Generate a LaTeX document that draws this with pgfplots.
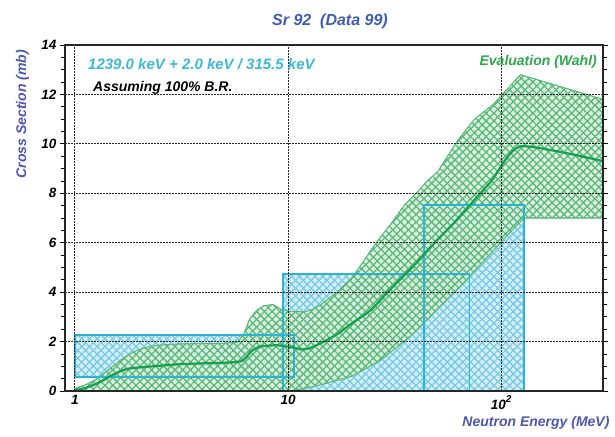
\documentclass[border=0pt]{standalone}
\usepackage{fontspec}
\setmainfont{Liberation Sans}
\usepackage{pgfplots}
\pgfplotsset{compat=1.18}
\usetikzlibrary{patterns.meta}

\definecolor{bandfill}{HTML}{D8EFDB}
\definecolor{bandhatch}{HTML}{5AB87A}
\definecolor{bandline}{HTML}{14A04C}
\definecolor{boxfill}{HTML}{D6EEF8}
\definecolor{boxhatch}{HTML}{78CBE6}
\definecolor{boxedge}{HTML}{2BB3D3}
\definecolor{titleblue}{HTML}{3C5CB8}
\definecolor{labelblue}{HTML}{4D56B0}
\definecolor{evalgreen}{HTML}{2AA84A}
\definecolor{infocyan}{HTML}{3CB8D8}

\tikzset{
  xhatch/.style={
    postaction={pattern={Lines[angle=45,distance=5.5pt,line width=1.3pt]},pattern color=#1},
    postaction={pattern={Lines[angle=-45,distance=5.5pt,line width=1.3pt]},pattern color=#1}},
  bi/.style={font=\fontsize{#1}{#1}\selectfont\bfseries\itshape},
}

% evaluated cross section (Wahl): central value and uncertainty band
\pgfplotstableread{
x      y
1      0.03
1.1    0.10
1.23   0.25
1.35   0.42
1.47   0.60
1.6    0.76
1.77   0.90
2.1    0.97
2.5    1.02
3.04   1.08
4      1.12
5.2    1.15
6.0    1.20
6.4    1.38
6.7    1.60
7.4    1.80
8.9    1.85
10.7   1.75
11.5   1.68
12.5   1.72
14.3   1.94
17     2.30
20     2.75
24.5   3.28
30     4.09
40     5.18
50     6.10
60     6.80
70     7.45
90     8.50
123    9.90
300    9.30
}\evalcentral

\pgfplotstableread{
x      y
1      0.10
1.12   0.25
1.25   0.45
1.37   0.70
1.5    0.98
1.64   1.25
1.8    1.48
1.97   1.65
2.2    1.78
2.45   1.85
3      1.90
4      1.92
5      1.93
5.8    1.97
6.2    2.30
6.6    2.90
7.1    3.25
7.7    3.45
8.5    3.50
9.3    3.30
10.3   3.22
11.9   3.20
13     3.30
14.3   3.50
17     4.00
20     4.60
22     5.10
24.5   5.70
27     6.20
30     6.70
35     7.50
40.6   8.07
45     8.50
50.4   8.88
55     9.40
62.8   10.16
75     11.00
91.7   11.60
123    12.80
300    11.80
300    7.00
128    7.00
115    6.60
90     5.60
67     4.40
50     3.30
39     2.35
27.3   1.25
20     0.60
15     0.30
12     0.10
10     0.00
1      0.00
1      0.10
}\evalband

\begin{document}
\begin{tikzpicture}
\path[use as bounding box] (-65pt,-45pt) rectangle (550pt,391pt);
\begin{axis}[
  scale only axis, width=538pt, height=346pt,
  at={(0pt,0pt)}, anchor=south west,
  xmode=log, log basis x=10,
  xmin=0.9, xmax=300, ymin=0, ymax=14,
  xtick={1,10,100},
  xticklabels={1,10,10\raisebox{0.55em}{\fontsize{10}{10}\selectfont 2}},
  ytick={0,2,...,14}, minor y tick num=3,
  xmajorgrids, xminorgrids, ymajorgrids,
  grid style={black!85, line width=0.8pt, dash pattern=on 0.9pt off 0.6pt},
  axis line style={black!85, line width=1.2pt},
  tick style={black, line width=0.8pt},
  x tick style={draw=none},
  ytick align=outside, major tick length=5pt, minor tick length=4pt,
  tick label style={bi=13.5},
  /pgf/number format/assume math mode=true,
  xticklabel style={yshift=-1pt},
  axis on top,
]
% measured cross sections (boxes: energy range x value range)
\addplot[draw=none, fill=boxfill, xhatch=boxhatch]
  coordinates {(1,0.58) (10.7,0.58) (10.7,2.25) (1,2.25) (1,0.58)};
\addplot[draw=none, fill=boxfill, xhatch=boxhatch]
  coordinates {(9.45,0) (71,0) (71,4.72) (9.45,4.72) (9.45,0)};
\addplot[draw=none, fill=boxfill, xhatch=boxhatch]
  coordinates {(43.4,0) (128,0) (128,7.52) (43.4,7.52) (43.4,0)};
% evaluation band
\addplot[draw=bandhatch, line width=0.6pt, fill=bandfill, fill opacity=0.85, xhatch=bandhatch]
  table[x=x,y=y] {\evalband};
% box outlines
\addplot[draw=boxedge, line width=1.8pt]
  coordinates {(1,0.58) (10.7,0.58) (10.7,2.25) (1,2.25) (1,0.58)};
\addplot[draw=boxedge, line width=1.8pt]
  coordinates {(9.45,0) (71,0) (71,4.72) (9.45,4.72) (9.45,0)};
\addplot[draw=boxedge, line width=1.8pt]
  coordinates {(43.4,0) (128,0) (128,7.52) (43.4,7.52) (43.4,0)};
% central evaluated value
\addplot[draw=bandline, line width=2.2pt, smooth, tension=0.35]
  table[x=x,y=y] {\evalcentral};
\end{axis}
% titles and annotations
\node[bi=16, text=titleblue] at (265pt,370pt) {Sr 92\ \ (Data 99)};
\node[bi=14, text=labelblue, rotate=90] at (-42.5pt,277pt) {Cross Section (mb)};
\node[bi=14, text=labelblue, anchor=east] at (548pt,-32pt) {Neutron Energy (MeV)};
\node[bi=15, text=infocyan, anchor=west, inner sep=0pt] at (23pt,327pt) {1239.0 keV + 2.0 keV / 315.5 keV};
\node[bi=14, text=black, anchor=west, inner sep=0pt] at (28pt,303pt) {Assuming 100\% B.R.};
\node[bi=14, text=evalgreen, anchor=east, inner sep=0pt] at (532pt,329pt) {Evaluation (Wahl)};
\end{tikzpicture}
\end{document}
